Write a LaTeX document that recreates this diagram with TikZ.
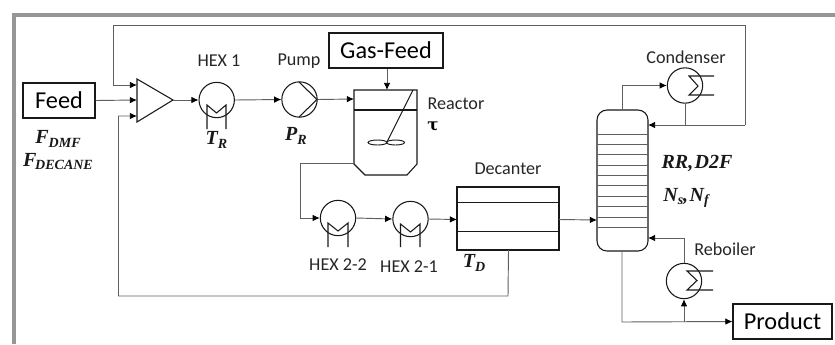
\documentclass[tikz,border=0pt]{standalone}
\usepackage{fontspec}
\setmainfont{Carlito}
\newfontfamily\mathbi[BoldItalicFont={Liberation Serif Bold Italic}]{Liberation Serif}
\usetikzlibrary{arrows.meta}
\definecolor{framegray}{RGB}{150,150,150}
\definecolor{ink}{RGB}{25,25,25}
\definecolor{pipegray}{RGB}{95,95,95}
\tikzset{
  x=0.75pt,y=-0.75pt,
  equip/.style={draw=ink,line width=0.8pt},
  pipe/.style={draw=pipegray,line width=0.7pt},
  flow/.style={pipe,-{Latex[length=5.4pt,width=5pt,color=black]}},
  hexcircle/.style={circle,draw=ink,line width=0.8pt,minimum size=26.5pt,inner sep=0pt},
  databox/.style={rectangle,draw=ink,line width=0.8pt,inner sep=0pt,font=\fontsize{18.2}{20}\selectfont},
  tag/.style={inner sep=0pt,font=\fontsize{13.6}{15}\selectfont,text=black!85},
  var/.style={inner sep=0pt,font=\fontsize{15}{17}\selectfont\mathbi\bfseries\itshape,text=black!90}
}
\newcommand{\subs}[1]{\raisebox{-2.5pt}{\fontsize{10.5}{12}\selectfont #1}}
\begin{document}
\begin{tikzpicture}
\useasboundingbox (0,0) rectangle (835,344);
\fill[white] (0,0) rectangle (835,344);
% frame
\draw[framegray,line width=3pt] (13.5,344) -- (13.5,14.5) -- (835,14.5);
% boxes
\node[databox,minimum width=54pt,minimum height=26.25pt] (feed) at (59,100.5) {Feed};
\node[databox,minimum width=85.5pt,minimum height=26.25pt] (gas) at (386,50.5) {Gas-Feed};
\node[databox,minimum width=74.25pt,minimum height=26.25pt] (product) at (782.5,321.5) {Product};
% mixer
\coordinate (mixA) at (137,85);
\coordinate (mixB) at (137,100);
\coordinate (mixC) at (137,116);
\coordinate (mixOut) at (173,100);
\draw[equip,line join=miter] (137,79) -- (173,100) -- (137,122) -- cycle;
% exchangers
\node[hexcircle] (hex1) at (216.7,100) {};
\node[hexcircle] (pump) at (299.5,99.5) {};
\node[hexcircle] (hex22) at (338,218) {};
\node[hexcircle] (hex21) at (410.5,219) {};
\node[hexcircle] (cond) at (685,85.5) {};
\node[hexcircle] (reb) at (684,281) {};
\draw[equip] (207,129) -- (207,105) -- (216.5,113) -- (226,105) -- (226,129);
\draw[equip] (328,247) -- (328,223) -- (338,231) -- (348,223) -- (348,247);
\draw[equip] (400.5,247) -- (400.5,224) -- (410.5,232) -- (420,224) -- (420,247);
\draw[equip] (714,76) -- (689,76) -- (698,86) -- (689,95) -- (714,95);
\draw[equip] (713,271) -- (687,271) -- (697,280.5) -- (687,290) -- (713,290);
\draw[equip] (299,82) -- (317,99.5) -- (299,117);
% reactor
\coordinate (rIn) at (354,99);
\coordinate (rTop) at (387,90);
\coordinate (rOut) at (354,163);
\draw[equip,line join=miter] (354,90) -- (417,90) -- (417,164) -- (407,175) -- (365,175) -- (354,164) -- cycle;
\draw[equip] (354,110) -- (417,110);
\draw[equip] (413,90) -- (387,142);
\draw[equip,line width=0.7pt] (377.5,142.5) ellipse (9.5 and 2.5);
\draw[equip,line width=0.7pt] (395.5,142.5) ellipse (9 and 2.5);
% decanter
\coordinate (dIn) at (457,219.5);
\coordinate (dOut) at (559,219.5);
\coordinate (dBot) at (508.5,250);
\draw[equip] (457,187) rectangle (559,250);
\draw[equip,line width=0.7pt] (457,202) -- (559,202);
\draw[equip,line width=0.7pt] (457,231) -- (559,231);
% column
\coordinate (cFeed) at (597,220);
\coordinate (cTop) at (622,110);
\coordinate (cBot) at (622,251);
\coordinate (cRefl) at (648,125);
\coordinate (cBoil) at (648,238);
\draw[equip,rounded corners=7.5pt] (597,110) rectangle (648,251);
\foreach \ty in {134,144,154,165,175,185,196,206,217,227}
  \draw[pipegray,line width=0.6pt] (597,\ty) -- (648,\ty);
% connectors
\draw[flow] (feed.east) -- (mixB);
\draw[flow] (mixOut) -- (hex1.west);
\draw[flow] (hex1.east) -- (pump.west);
\draw[flow] (pump.east) -- (rIn);
\draw[flow] (gas.south -| rTop) -- (rTop);
\draw[flow] (rOut) -- (300,163) -- (300,218) -- (hex22.west);
\draw[flow] (hex22.east) -- (hex21.west);
\draw[flow] (hex21.east) -- (dIn);
\draw[flow] (dOut) -- (cFeed);
\draw[flow] (cTop) -- (622,85.5) -- (cond.west);
\draw[pipe] (cond.south) -- (685,125);
\draw[flow] (745,125) -- (cRefl);
\draw[flow] (745,125) -- (745,25) -- (113,25) -- (113,85) -- (mixA);
\draw[flow] (dBot) -- (508,296) -- (118.5,296) -- (118.5,116) -- (mixC);
\draw[flow] (reb.north) -- (684,238) -- (cBoil);
\draw[flow] (cBot) -- (622,322) -- (product.west);
\draw[flow] (684,322) -- (reb.south);
% labels
\node[tag] (l1) at (219,61) {HEX 1};
\node[tag] (l2) at (299,61.5) {Pump};
\node[tag] (l3) at (456,104) {Reactor};
\node[tag] (l4) at (508,169) {Decanter};
\node[tag] (l5) at (338,265) {HEX 2-2};
\node[tag] (l6) at (409,266.5) {HEX 2-1};
\node[tag] (l7) at (686,57) {Condenser};
\node[tag] (l8) at (725,249) {Reboiler};
\node[var] (v1) at (58,139) {F\subs{DMF}};
\node[var] (v2) at (58,161.5) {F\kern-1pt\subs{DECANE}};
\node[var] (v3) at (216.5,140) {T\subs{R}};
\node[var] (v4) at (296,136) {P\subs{R}};
\node[inner sep=0pt,font=\fontsize{12.5}{14}\selectfont\fontspec{DejaVu Serif}\bfseries] (v5) at (433,126) {τ};
\node[var] (v6) at (474,263) {T\subs{D}};
\node[var] (v7) at (697,163) {RR,\kern1pt D2F};
\node[var] (v8) at (686,198) {N\subs{s},\kern1pt N\subs{f}};
\end{tikzpicture}
\end{document}
